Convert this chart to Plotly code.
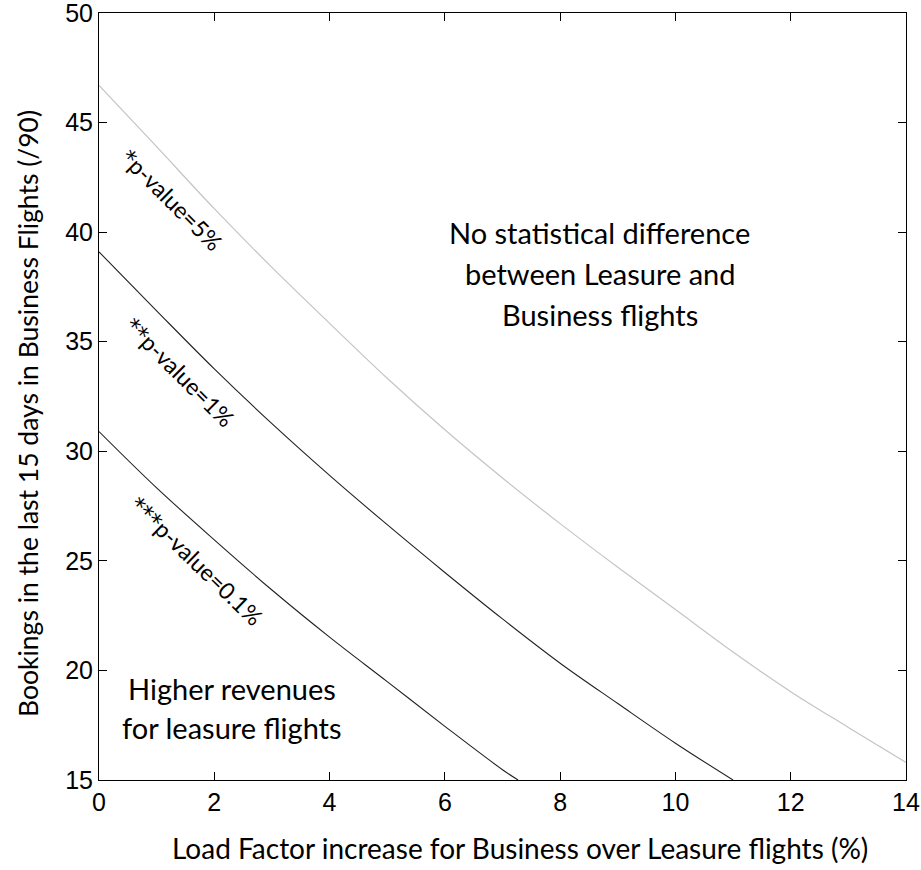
import plotly.graph_objects as go

# Data
x_5pct = [0, 1, 2, 3, 4, 5, 6, 7, 8, 9, 10, 11, 12, 13, 14]
y_5pct = [46.7, 43.9, 41.07, 38.39, 35.84, 33.33, 30.98, 28.78, 26.70, 24.71, 22.78, 20.84, 19.03, 17.40, 15.8]

x_1pct = [0, 1, 2, 3, 4, 5, 6, 7, 8, 9, 10, 11.0]
y_1pct = [39.1, 36.41, 33.76, 31.26, 28.90, 26.65, 24.47, 22.35, 20.33, 18.49, 16.68, 15.0]

x_01pct = [0, 1, 2, 3, 4, 5, 6, 7, 7.27]
y_01pct = [30.9, 28.33, 25.96, 23.67, 21.52, 19.49, 17.45, 15.47, 15.0]

x_ticks = [0, 2, 4, 6, 8, 10, 12, 14]
y_ticks = [15, 20, 25, 30, 35, 40, 45, 50]

x_title = "Load Factor increase for Business over Leasure flights (%)"
y_title = "Bookings in the last 15 days in Business Flights (/90)"

no_diff_lines = ["No statistical difference", "between Leasure and", "Business flights"]
higher_lines = ["Higher revenues", "for leasure flights"]

label_font = "Lato"
tick_font = "Liberation Sans"
star = '<span style="font-family:DejaVu Sans">{}</span>'

fig = go.Figure()
fig.add_trace(go.Scatter(x=x_5pct, y=y_5pct, mode="lines", line=dict(color="#c4c4c4", width=1.2, shape="spline"), showlegend=False))
fig.add_trace(go.Scatter(x=x_1pct, y=y_1pct, mode="lines", line=dict(color="#222222", width=1.1, shape="spline"), showlegend=False))
fig.add_trace(go.Scatter(x=x_01pct, y=y_01pct, mode="lines", line=dict(color="#222222", width=1.1, shape="spline"), showlegend=False))

rot_labels = [
    dict(x=1.27, y=41.47, text=star.format("*") + "p-value=5%", textangle=45),
    dict(x=1.40, y=33.6, text=star.format("**") + "p-value=1%", textangle=45),
    dict(x=1.70, y=25.0, text=star.format("***") + "p-value=0.1%", textangle=44),
]
for a in rot_labels:
    fig.add_annotation(x=a["x"], y=a["y"], text=a["text"], textangle=a["textangle"],
                       showarrow=False, xref="x", yref="y",
                       font=dict(family=label_font, size=23, color="black"))

def add_block(lines, cx, cy, spacing):
    n = len(lines)
    for i, t in enumerate(lines):
        shift = ((n - 1) / 2 - i) * spacing
        fig.add_annotation(x=cx, y=cy, yshift=shift, text=t, showarrow=False, xref="x", yref="y",
                           xanchor="center", yanchor="middle",
                           font=dict(family=label_font, size=29, color="black"))

add_block(no_diff_lines, 8.69, 38.1, 41)
add_block(higher_lines, 2.31, 18.3, 39)

# axis titles placed as annotations for exact positioning
fig.add_annotation(x=0.5217, y=-0.089, xref="paper", yref="paper", text=x_title, showarrow=False,
                   xanchor="center", yanchor="middle", font=dict(family=label_font, size=28, color="black"))
fig.add_annotation(x=-0.088, y=0.4785, xref="paper", yref="paper", text=y_title, showarrow=False,
                   textangle=-90, xanchor="center", yanchor="middle",
                   font=dict(family=label_font, size=26.5, color="black"))

fig.update_xaxes(range=[0, 14], tickvals=x_ticks, ticks="inside", ticklen=8, tickcolor="black",
                 showline=True, linecolor="black", linewidth=1, mirror="ticks", showgrid=False,
                 zeroline=False, automargin=False, ticklabeloverflow="allow",
                 tickfont=dict(family=tick_font, size=25, color="black"))
fig.update_yaxes(range=[15, 50], tickvals=y_ticks, ticks="inside", ticklen=8, tickcolor="black",
                 showline=True, linecolor="black", linewidth=1, mirror="ticks", showgrid=False,
                 zeroline=False, automargin=False, ticklabeloverflow="allow",
                 tickfont=dict(family=tick_font, size=25, color="black"))
fig.update_layout(width=921, height=870, margin=dict(l=99, r=15, t=13, b=90, autoexpand=False),
                  plot_bgcolor="white", paper_bgcolor="white")
fig.write_html("out.html")
